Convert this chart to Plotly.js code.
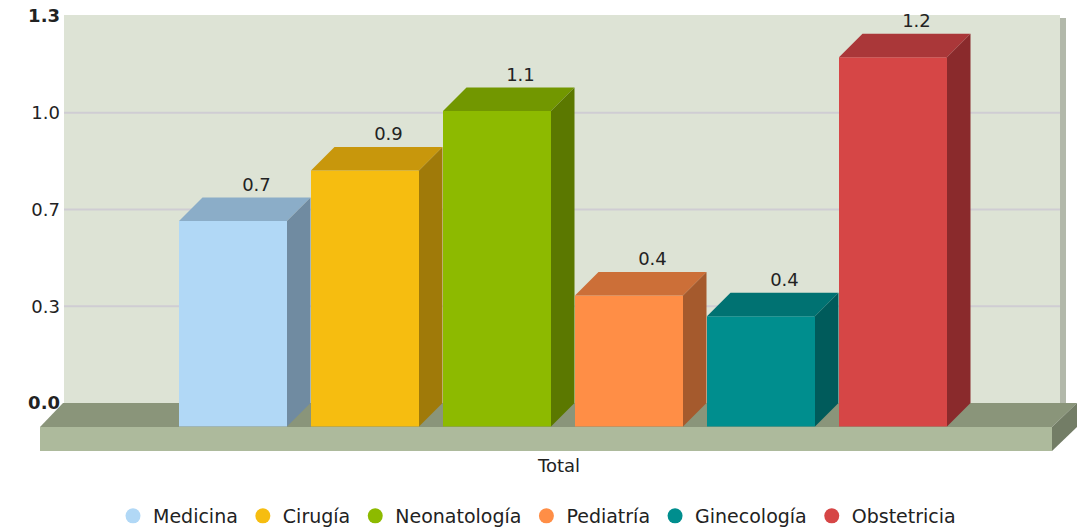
<!DOCTYPE html>
<html>
<head>
<meta charset="utf-8">
<script src="https://cdn.plot.ly/plotly-3.0.1.min.js"></script>
<style>html,body{margin:0;padding:0;background:#fff;}#chart{width:1089px;height:531px;}</style>
</head>
<body>
<div id="chart"></div>
<script>
// ---- data ----
const categories = ['Medicina', 'Cirugía', 'Neonatología', 'Pediatría', 'Ginecología', 'Obstetricia'];
const values = [0.69, 0.86, 1.06, 0.44, 0.37, 1.24];
const frontColors = ['#b1d8f6', '#f6bd10', '#8dba00', '#ff8e46', '#008e8e', '#d64646'];
const topColors   = ['#8badc8', '#c8970c', '#729700', '#cc6f38', '#007272', '#aa3739'];
const sideColors  = ['#708ba1', '#a07a09', '#5b7800', '#a55a2d', '#005b5b', '#8a2a2c'];
const yTickVals = [0, 0.325, 0.65, 0.975, 1.3];
const yTickText = ['<b>0.0</b>', '0.3', '0.7', '1.0', '<b>1.3</b>'];
const xLabel = 'Total';

// ---- geometry (layout only) ----
const W = 1089, H = 531;
const PL = 40, PR = 1077, PT = 15, PB = 452;      // plot area in px
const pitch = 132, x0px = 233;                    // px per category, centre of first bar
const yUnit = 297.7, y0px = 403;                  // px per value unit, zero line on back wall
const X = px => (px - x0px) / pitch;
const Y = py => (y0px - py) / yUnit;
const barW = 108 / pitch;
const dx = 23.5 / pitch, dy = 23.5 / yUnit;
const FONT = 'DejaVu Sans, Verdana, sans-serif';

const traces = [];
// legend proxies (circles)
categories.forEach((c, i) => {
  traces.push({type: 'scatter', mode: 'markers', x: [null], y: [null], name: c, legendgroup: c,
    marker: {symbol: 'circle', size: 15, color: frontColors[i]}, hoverinfo: 'skip'});
});
// bars (front faces), top and side faces
categories.forEach((c, i) => {
  const v = values[i];
  traces.push({type: 'bar', x: [i], y: [v], base: [-dy], width: [barW], name: c, legendgroup: c,
    showlegend: false, marker: {color: frontColors[i], line: {width: 0}}, hoverinfo: 'skip'});
  const l = i - barW / 2, r = i + barW / 2;
  traces.push({type: 'scatter', mode: 'lines', fill: 'toself', showlegend: false, legendgroup: c,
    x: [l, r, r + dx, l + dx, l], y: [v - dy, v - dy, v, v, v - dy],
    line: {width: 0, color: topColors[i]}, fillcolor: topColors[i], hoverinfo: 'skip'});
  traces.push({type: 'scatter', mode: 'lines', fill: 'toself', showlegend: false, legendgroup: c,
    x: [r, r + dx, r + dx, r, r], y: [-dy, 0, v, v - dy, -dy],
    line: {width: 0, color: sideColors[i]}, fillcolor: sideColors[i], hoverinfo: 'skip'});
});
// value labels
traces.push({type: 'scatter', mode: 'text', showlegend: false, cliponaxis: false,
  x: categories.map((c, i) => i + dx), y: values.map(v => v + 0.008),
  text: values.map(v => v.toFixed(1)), textposition: 'top center',
  textfont: {family: FONT, size: 18, color: '#222'}, hoverinfo: 'skip'});

// background: wall, grid, floor
const shapes = [];
shapes.push({type: 'rect', layer: 'below', xref: 'x', yref: 'y', x0: X(64), x1: X(1060), y0: Y(404), y1: Y(15),
  fillcolor: '#dde3d5', line: {width: 0}});
shapes.push({type: 'rect', layer: 'below', xref: 'x', yref: 'y', x0: X(1060), x1: X(1066), y0: Y(404), y1: Y(18),
  fillcolor: '#b2b8aa', line: {width: 0}});
yTickVals.slice(1, 4).forEach(t => {
  shapes.push({type: 'line', layer: 'below', xref: 'x', yref: 'y', x0: X(64), x1: X(1060), y0: t, y1: t,
    line: {color: '#cfcdd3', width: 2}});
});
const path = pts => 'M' + pts.map(p => X(p[0]) + ',' + Y(p[1])).join('L') + 'Z';
shapes.push({type: 'path', layer: 'below', xref: 'x', yref: 'y',
  path: path([[40, 427], [1052, 427], [1077, 403], [63, 403]]), fillcolor: '#8a957a', line: {width: 0}});
shapes.push({type: 'path', layer: 'below', xref: 'x', yref: 'y',
  path: path([[40, 427], [1052, 427], [1052, 451], [40, 451]]), fillcolor: '#adba9c', line: {width: 0}});
shapes.push({type: 'path', layer: 'below', xref: 'x', yref: 'y',
  path: path([[1052, 427], [1077, 403], [1077, 427], [1052, 451]]), fillcolor: '#737d66', line: {width: 0}});

const layout = {
  width: W, height: H,
  margin: {l: PL, r: W - PR, t: PT, b: H - PB, pad: 0},
  paper_bgcolor: '#ffffff', plot_bgcolor: 'rgba(0,0,0,0)',
  barmode: 'overlay', showlegend: true, hovermode: false,
  font: {family: FONT, size: 18, color: '#222'},
  xaxis: {range: [X(PL), X(PR)], showgrid: false, zeroline: false, showline: false,
    showticklabels: false, ticks: '', fixedrange: true},
  yaxis: {range: [Y(PB), Y(PT)], anchor: 'free', position: (64 - PL) / (PR - PL),
    tickvals: yTickVals, ticktext: yTickText, showgrid: false, zeroline: false, showline: false,
    ticks: '', ticklabelstandoff: 4, tickfont: {family: FONT, size: 18, color: '#222'}, fixedrange: true},
  shapes: shapes,
  annotations: [{text: xLabel, xref: 'paper', yref: 'paper', x: 0.5, y: -(465 - PB) / (PB - PT),
    xanchor: 'center', yanchor: 'middle', showarrow: false, font: {family: FONT, size: 18, color: '#222'}}],
  legend: {orientation: 'h', xref: 'container', yref: 'container', x: 537 / W, xanchor: 'center',
    y: 1 - 516 / H, yanchor: 'middle', font: {family: FONT, size: 19, color: '#222'},
    bgcolor: 'rgba(0,0,0,0)', itemclick: false, itemdoubleclick: false}
};

Plotly.newPlot('chart', traces, layout, {staticPlot: true, displayModeBar: false});
</script>
</body>
</html>
